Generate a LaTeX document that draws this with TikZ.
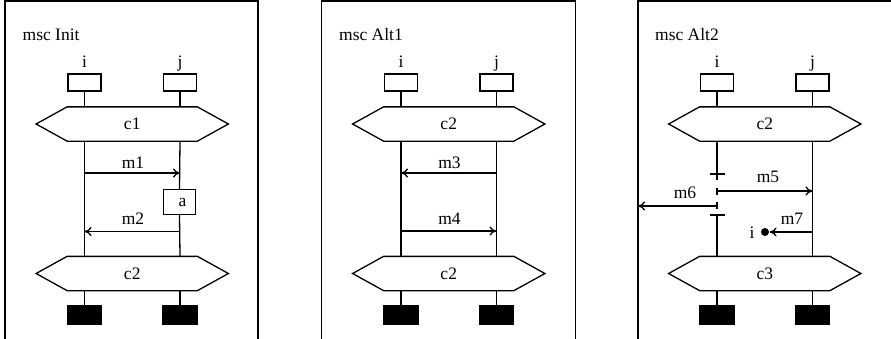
\documentclass[tikz,border=0pt]{standalone}
\usepackage{fontspec}
\setmainfont{Liberation Serif}
\usetikzlibrary{arrows.meta}
\newcommand{\hexa}[1]{\draw (#1.north west) -- (#1.north east) -- ([xshift=31pt]#1.east) -- (#1.south east) -- (#1.south west) -- ([xshift=-31pt]#1.west) -- cycle;}
\begin{document}
\begin{tikzpicture}[x=1pt,y=-1pt, line width=1.3pt,
  every node/.style={font=\fontsize{17.5}{20}\selectfont, inner sep=0pt},
  head/.style={draw, minimum width=33pt, minimum height=17pt},
  endbox/.style={draw, fill=black, minimum width=34pt, minimum height=18pt},
  cond/.style={minimum width=129pt, minimum height=33pt},
  actbox/.style={draw, minimum width=32pt, minimum height=25pt},
  dotnode/.style={circle, fill=black, minimum size=8pt},
  msg/.style={-{To[length=7pt,width=9pt]}},
  frame/.style={line width=1.3pt}]
\useasboundingbox (0,0) rectangle (891,338);

% ---------- Panel 1: msc Init ----------
\coordinate (f1a) at (5,345);
\coordinate (f1b) at (5,1);
\coordinate (f1c) at (258,1);
\coordinate (f1d) at (258,345);
\draw[frame] (f1a) -- (f1b) -- (f1c) -- (f1d);
\node[anchor=base west] (t1) at (22,40) {msc Init};
\node[anchor=base] (n1i) at (84.5,67) {i};
\node[anchor=base] (n1j) at (180,67) {j};
\node[head] (h1i) at (84.5,82.5) {};
\node[head] (h1j) at (180,82.5) {};
\node[cond] (c1a) at (132.25,124) {c1};
\hexa{c1a}
\node[cond] (c1b) at (132.25,273.5) {c2};
\hexa{c1b}
\node[actbox] (a1) at (179.5,202) {\hspace*{6pt}a};
\node[endbox] (e1i) at (84.5,315) {};
\node[endbox] (e1j) at (180,315) {};
\draw (h1i.south) -- (h1i.south |- c1a.north);
\draw (h1i.south |- c1a.south) -- (h1i.south |- c1b.north);
\draw (h1i.south |- c1b.south) -- (e1i.north);
\draw (h1j.south) -- (h1j.south |- c1a.north);
\draw (h1j.south |- c1a.south) -- (a1.north);
\draw (a1.south) -- (h1j.south |- c1b.north);
\draw (h1j.south |- c1b.south) -- (e1j.north);
\coordinate (m1s) at (84.5,173);
\coordinate (m1e) at (180,173);
\draw[msg] (m1s) -- (m1e);
\node (lm1) at (133,163) {m1};
\coordinate (m2s) at (180,231.5);
\coordinate (m2e) at (84.5,231.5);
\draw[msg] (m2s) -- (m2e);
\node (lm2) at (133,219) {m2};

% ---------- Panel 2: msc Alt1 ----------
\begin{scope}[xshift=316.5pt]
\coordinate (f2a) at (5,345);
\coordinate (f2b) at (5,1);
\coordinate (f2c) at (259,1);
\coordinate (f2d) at (259,345);
\draw[frame] (f2a) -- (f2b) -- (f2c) -- (f2d);
\node[anchor=base west] (t2) at (22,40) {msc Alt1};
\node[anchor=base] (n2i) at (84.5,67) {i};
\node[anchor=base] (n2j) at (180,67) {j};
\node[head] (h2i) at (84.5,82.5) {};
\node[head] (h2j) at (180,82.5) {};
\node[cond] (c2a) at (132.25,124) {c2};
\hexa{c2a}
\node[cond] (c2b) at (132.25,273.5) {c2};
\hexa{c2b}
\node[endbox] (e2i) at (84.5,315) {};
\node[endbox] (e2j) at (180,315) {};
\draw (h2i.south) -- (h2i.south |- c2a.north);
\draw (h2i.south |- c2a.south) -- (h2i.south |- c2b.north);
\draw (h2i.south |- c2b.south) -- (e2i.north);
\draw (h2j.south) -- (h2j.south |- c2a.north);
\draw (h2j.south |- c2a.south) -- (h2j.south |- c2b.north);
\draw (h2j.south |- c2b.south) -- (e2j.north);
\coordinate (m3s) at (180,173);
\coordinate (m3e) at (84.5,173);
\draw[msg] (m3s) -- (m3e);
\node (lm3) at (133,163) {m3};
\coordinate (m4s) at (84.5,231);
\coordinate (m4e) at (180,231);
\draw[msg] (m4s) -- (m4e);
\node (lm4) at (133,219) {m4};
\end{scope}

% ---------- Panel 3: msc Alt2 ----------
\begin{scope}[xshift=632.5pt]
\coordinate (f3a) at (5.5,345);
\coordinate (f3b) at (5.5,1);
\coordinate (f3c) at (262,1);
\draw[frame] (f3a) -- (f3b) -- (f3c);
\node[anchor=base west] (t3) at (22,40) {msc Alt2};
\node[anchor=base] (n3i) at (84.5,67) {i};
\node[anchor=base] (n3j) at (180,67) {j};
\node[head] (h3i) at (84.5,82.5) {};
\node[head] (h3j) at (180,82.5) {};
\node[cond] (c3a) at (132.25,124) {c2};
\hexa{c3a}
\node[cond] (c3b) at (132.25,273.5) {c3};
\hexa{c3b}
\node[endbox] (e3i) at (84.5,315) {};
\node[endbox] (e3j) at (180,315) {};
% lifeline i with gap
\coordinate (g1) at (84.5,179.5);
\coordinate (b1l) at (77,174);
\coordinate (b1r) at (92,174);
\coordinate (k1a) at (84.5,188);
\coordinate (k1b) at (84.5,195);
\coordinate (k2a) at (84.5,202);
\coordinate (k2b) at (84.5,209);
\coordinate (g2) at (84.5,215);
\coordinate (b2l) at (77,215);
\coordinate (b2r) at (92,215);
\draw (h3i.south) -- (h3i.south |- c3a.north);
\draw (h3i.south |- c3a.south) -- (g1);
\draw (b1l) -- (b1r);
\draw (k1a) -- (k1b);
\draw (k2a) -- (k2b);
\draw (b2l) -- (b2r);
\draw (g2) -- (h3i.south |- c3b.north);
\draw (h3i.south |- c3b.south) -- (e3i.north);
\draw (h3j.south) -- (h3j.south |- c3a.north);
\draw (h3j.south |- c3a.south) -- (h3j.south |- c3b.north);
\draw (h3j.south |- c3b.south) -- (e3j.north);
\coordinate (m5s) at (84.5,191);
\coordinate (m5e) at (180,191);
\draw[msg] (m5s) -- (m5e);
\node (lm5) at (135.5,177) {m5};
\coordinate (m6s) at (84.5,206);
\coordinate (m6e) at (5.5,206);
\draw[msg] (m6s) -- (m6e);
\node (lm6) at (52.5,193) {m6};
\node[dotnode] (d7) at (132.5,232) {};
\node (li7) at (119.5,233) {i};
\coordinate (m7s) at (180,232);
\draw[msg] (m7s) -- (d7.east);
\node (lm7) at (159.5,219) {m7};
\end{scope}
\end{tikzpicture}
\end{document}
